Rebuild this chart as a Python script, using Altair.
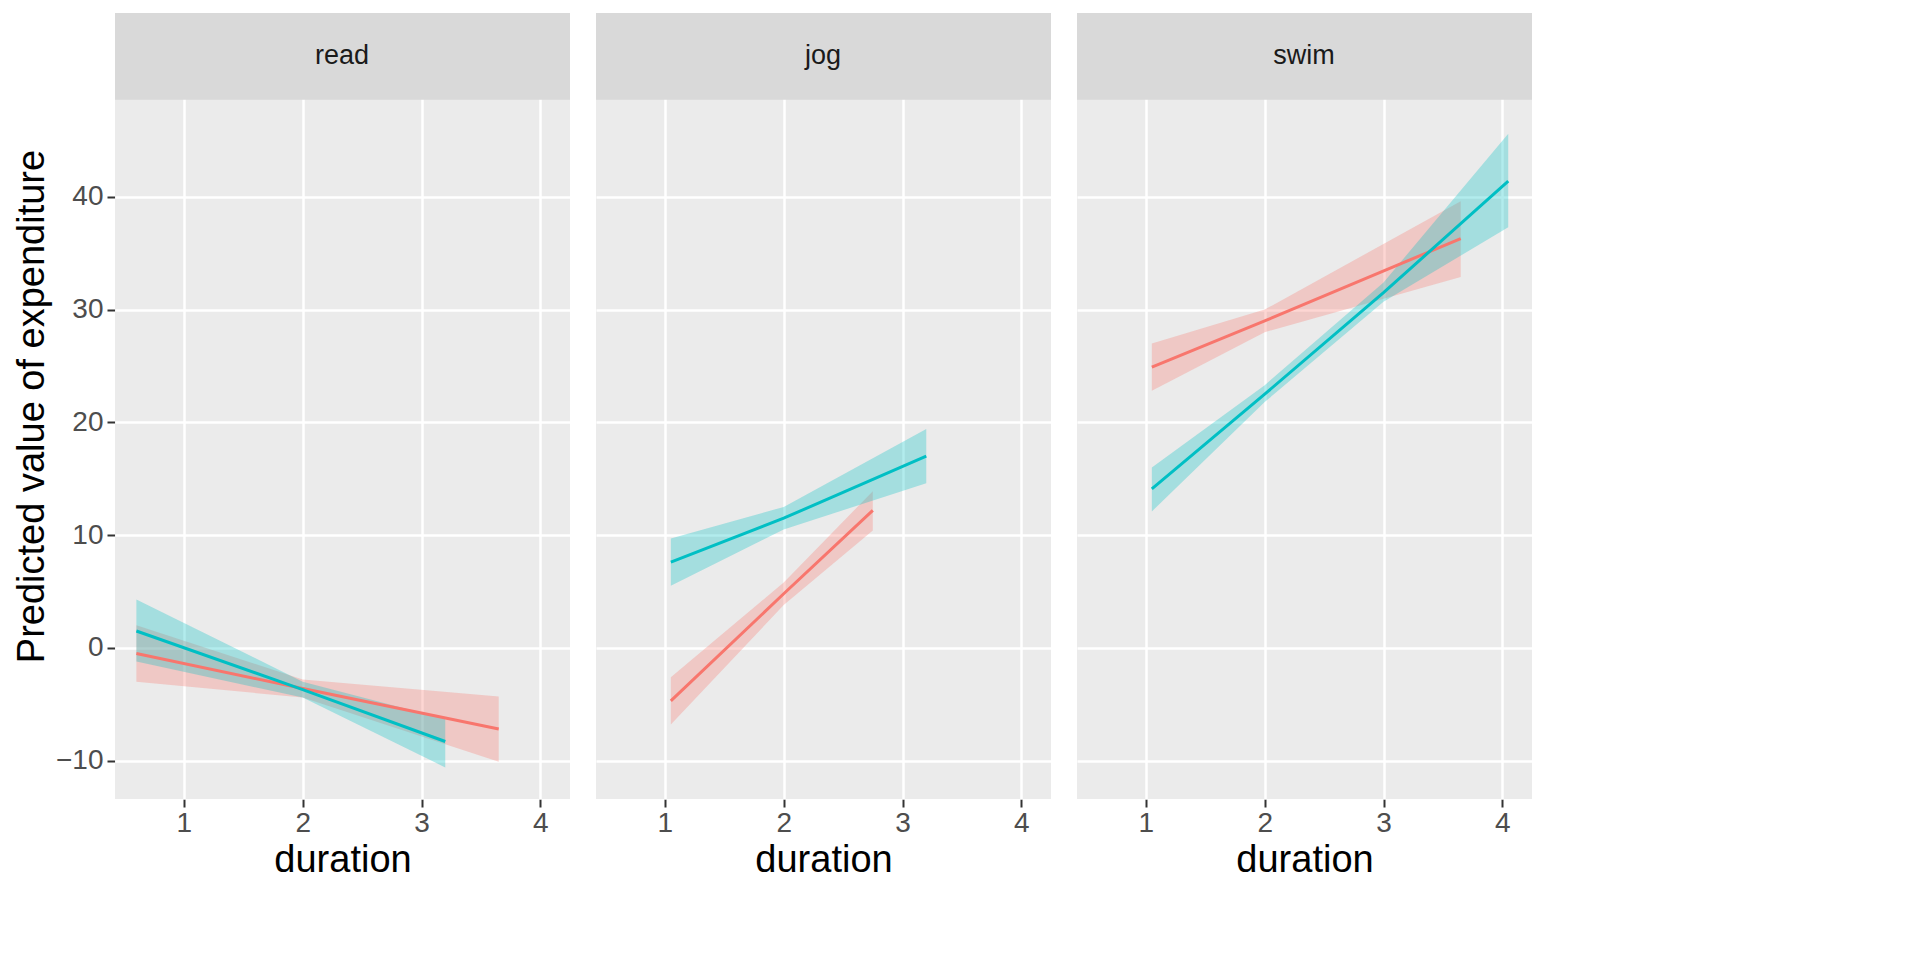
import altair as alt
import pandas as pd

panels = ["read", "jog", "swim"]
# per panel, per sex: x, fit, lower, upper
read_f_x = [0.6, 2.0, 3.65]; read_f_y = [-0.5, -3.6, -7.2]; read_f_lo = [-3.0, -4.4, -10.1]; read_f_hi = [2.0, -2.8, -4.3]
read_m_x = [0.6, 2.0, 3.2]; read_m_y = [1.5, -3.7, -8.3]; read_m_lo = [-1.2, -4.4, -10.6]; read_m_hi = [4.3, -3.0, -6.3]
jog_f_x = [1.05, 2.0, 2.75]; jog_f_y = [-4.7, 4.8, 12.2]; jog_f_lo = [-6.8, 3.8, 10.4]; jog_f_hi = [-2.6, 5.8, 13.9]
jog_m_x = [1.05, 2.0, 3.2]; jog_m_y = [7.6, 11.5, 17.0]; jog_m_lo = [5.5, 10.5, 14.6]; jog_m_hi = [9.7, 12.5, 19.4]
swim_f_x = [1.05, 2.0, 3.65]; swim_f_y = [24.9, 29.0, 36.3]; swim_f_lo = [22.8, 28.0, 32.9]; swim_f_hi = [27.0, 30.0, 39.6]
swim_m_x = [1.05, 2.0, 3.0, 4.05]; swim_m_y = [14.1, 22.5, 31.5, 41.4]; swim_m_lo = [12.1, 21.8, 30.7, 37.3]; swim_m_hi = [16.0, 23.3, 32.4, 45.6]

series = [
    ("read", "female", read_f_x, read_f_y, read_f_lo, read_f_hi),
    ("read", "male", read_m_x, read_m_y, read_m_lo, read_m_hi),
    ("jog", "female", jog_f_x, jog_f_y, jog_f_lo, jog_f_hi),
    ("jog", "male", jog_m_x, jog_m_y, jog_m_lo, jog_m_hi),
    ("swim", "female", swim_f_x, swim_f_y, swim_f_lo, swim_f_hi),
    ("swim", "male", swim_m_x, swim_m_y, swim_m_lo, swim_m_hi),
]
rows = []
for p, s, xs, ys, los, his in series:
    for x, y, lo, hi in zip(xs, ys, los, his):
        rows.append(dict(kind="fit", panel=p, sex=s, duration=x, pred=y, lo=lo, hi=hi))
XMIN, XMAX, YMIN, YMAX, STRIP = 0.42, 4.25, -13.4, 48.6, 56.3
for p in panels:
    rows.append(dict(kind="strip", panel=p, sex=None, duration=XMIN, pred=YMAX, lo=XMAX, hi=STRIP))
df = pd.DataFrame(rows)

col = alt.Scale(domain=["female", "male"], range=["#F8766D", "#00BFC4"])
xs = alt.Scale(domain=[XMIN, XMAX], nice=False, zero=False)
ysc = alt.Scale(domain=[YMIN, STRIP], nice=False, zero=False)
xax = alt.Axis(values=[1, 2, 3, 4], format="d", title="duration")
yax = alt.Axis(values=[-10, 0, 10, 20, 30, 40], title="Predicted value of expenditure")

fit = alt.datum.kind == "fit"
band = alt.Chart().mark_area(opacity=0.3).encode(
    x=alt.X("duration:Q", scale=xs, axis=xax),
    y=alt.Y("lo:Q", scale=ysc, axis=yax), y2="hi:Q",
    color=alt.Color("sex:N", scale=col, legend=None),
    detail="sex:N",
).transform_filter(fit)
line = alt.Chart().mark_line(strokeWidth=3).encode(
    x="duration:Q", y="pred:Q",
    color=alt.Color("sex:N", scale=col, legend=alt.Legend(title="sex", symbolType="stroke", symbolStrokeWidth=4, symbolSize=900)),
).transform_filter(fit)
strip = alt.Chart().mark_rect(color="#D9D9D9").encode(
    x="duration:Q", x2="lo:Q", y="pred:Q", y2="hi:Q"
).transform_filter(alt.datum.kind == "strip")
label = alt.Chart().mark_text(fontSize=27, color="#1A1A1A", font="Liberation Sans").encode(
    x=alt.value(227), y=alt.value(43), text="panel:N"
).transform_filter(alt.datum.kind == "strip")

chart = alt.layer(band, line, strip, label, data=df).properties(width=455, height=786).facet(
    column=alt.Column("panel:N", sort=panels, header=alt.Header(labels=False, title=None)),
    spacing=26,
).configure_view(fill="#EBEBEB", stroke=None).configure_axis(
    grid=True, gridColor="white", gridWidth=2.5, domain=False,
    tickColor="#333333", tickSize=8, tickWidth=2,
    labelFontSize=28, labelColor="#4D4D4D", labelFont="Liberation Sans",
    titleFontSize=38, titleFont="Liberation Sans", titleFontWeight="normal", titleColor="black",
).configure_axisY(labelPadding=4).configure_legend(
    titleFontSize=34, labelFontSize=29, titleFont="Liberation Sans", labelFont="Liberation Sans",
    titleFontWeight="normal", orient="right", offset=30,
)
chart.save("out.html", embed_options={"renderer": "svg", "actions": False})
